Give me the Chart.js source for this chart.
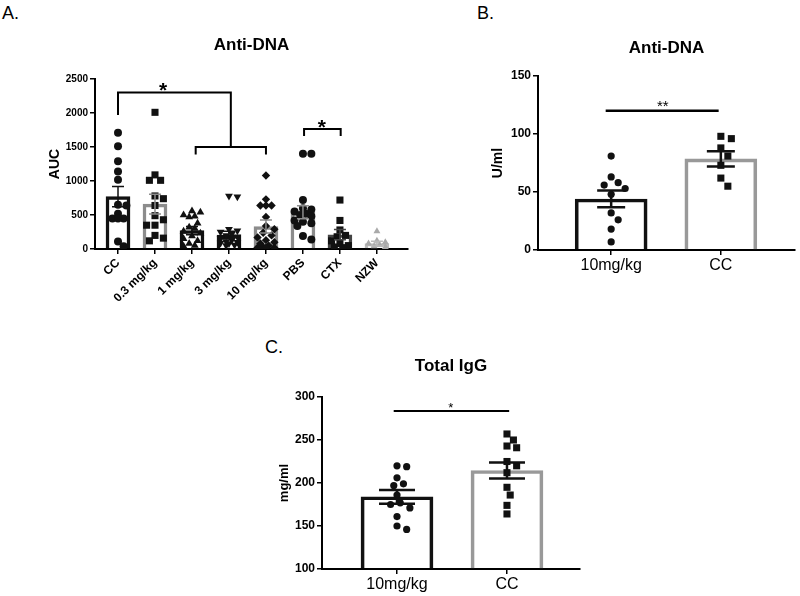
<!DOCTYPE html>
<html>
<head>
  <title>Anti-DNA / Total IgG</title>
  <script src="https://cdn.jsdelivr.net/npm/chart.js"></script>
  <style>
    body { margin:0; background:#fff; width:800px; height:596px; position:relative; overflow:hidden;
           font-family: Helvetica, Arial, "Liberation Sans", sans-serif; }
    canvas { position:absolute; }
    .lbl { position:absolute; font-size:18px; color:#000; line-height:1; }
  </style>
</head>
<body>
  <div class="lbl" style="left:2px;top:4px">A.</div>
  <div class="lbl" style="left:477px;top:4px">B.</div>
  <div class="lbl" style="left:265px;top:338px">C.</div>
  <canvas id="chartA" width="420" height="330" style="left:0;top:0"></canvas>
  <canvas id="chartB" width="360" height="300" style="left:440px;top:0"></canvas>
  <canvas id="chartC" width="350" height="266" style="left:240px;top:330px"></canvas>
  <script>
    const FONT = 'Helvetica, Arial, "Liberation Sans", sans-serif';
    Chart.defaults.font.family = FONT;
    Chart.defaults.color = '#000';

    // panel A: anti-DNA AUC
    const catsA = ['CC', '0.3 mg/kg', '1 mg/kg', '3 mg/kg', '10 mg/kg', 'PBS', 'CTX', 'NZW'];
    const meanA = [770, 660, 270, 205, 330, 540, 210, 80];
    const semA  = [150, 145, 60, 55, 95, 95, 75, 35];
    const ptsCC  = [1710, 1510, 1290, 1140, 1020, 650, 640, 520, 450, 450, 450, 110, 40];
    const pts03  = [2010, 1090, 1010, 1010, 780, 740, 640, 490, 430, 350, 350, 200, 160, 120];
    const pts1   = [560, 540, 500, 480, 470, 380, 320, 300, 260, 230, 190, 150, 120, 80, 50, 40];
    const pts3   = [780, 770, 290, 270, 250, 220, 200, 180, 150, 130, 110, 100, 90, 80, 60, 50];
    const pts10  = [1080, 730, 640, 640, 640, 470, 340, 290, 240, 200, 170, 130, 100, 80, 50, 30, 20, 20, 20];
    const ptsPBS = [1400, 1400, 720, 600, 580, 550, 520, 500, 480, 420, 400, 380, 340, 190, 140];
    const ptsCTX = [720, 420, 280, 200, 180, 120, 80, 50, 30, 20];
    const ptsNZW = [260, 120, 100, 80, 60, 40, 30];

    // panel B: anti-DNA U/ml
    const catsB = ['10mg/kg', 'CC'];
    const meanB = [44, 78.5];
    const semB  = [7.2, 6.6];
    const ptsB10 = [81, 63, 58, 56, 53, 48, 32, 26, 18, 7];
    const ptsBCC = [98, 96, 88, 81, 73, 62, 55];

    // panel C: total IgG mg/ml
    const catsC = ['10mg/kg', 'CC'];
    const meanC = [184, 214.5];
    const semC  = [8, 9.3];
    const ptsC10 = [220, 219, 206, 199, 197, 186, 177, 175, 171, 161, 150, 146];
    const ptsCCC = [257, 250, 243, 241, 225, 220, 212, 195, 186, 174, 164];

    // error bars + asterisks, drawn with the chart's own scales
    function overlay(means, sems, errColors, errWidth, cap, stars) {
      return {
        id: 'overlay',
        afterDatasetsDraw(chart) {
          const ctx = chart.ctx, x = chart.scales.x, y = chart.scales.y;
          ctx.save();
          ctx.lineWidth = errWidth;
          means.forEach((m, i) => {
            const px = x.getPixelForValue(i);
            const top = y.getPixelForValue(m + sems[i]), bot = y.getPixelForValue(m - sems[i]);
            ctx.strokeStyle = errColors[i];
            ctx.beginPath();
            ctx.moveTo(px, top); ctx.lineTo(px, bot);
            ctx.moveTo(px - cap / 2, top); ctx.lineTo(px + cap / 2, top);
            ctx.moveTo(px - cap / 2, bot); ctx.lineTo(px + cap / 2, bot);
            ctx.stroke();
          });
          ctx.fillStyle = '#000';
          ctx.textAlign = 'center';
          ctx.textBaseline = 'alphabetic';
          stars.forEach(s => {
            ctx.font = s.weight + ' ' + s.size + 'px ' + FONT;
            ctx.fillText(s.text, x.getPixelForValue(s.x), y.getPixelForValue(s.y) + s.size * 0.57);
          });
          ctx.restore();
        }
      };
    }

    // spread the dots sideways (within maxOff px) so they overlap as little as possible
    function swarm(vals, idx, xs, ys, r, maxOff) {
      const cx = xs.getPixelForValue(idx), placed = [];
      return vals.map(v => {
        const py = ys.getPixelForValue(v);
        let best = cx, bestD = -1;
        for (let k = 0; ; k++) {
          const off = k === 0 ? 0 : (k % 2 ? 1 : -1) * Math.ceil(k / 2) * r * 0.7;
          if (Math.abs(off) > maxOff) break;
          const tx = cx + off;
          let d = Infinity;
          placed.forEach(p => { d = Math.min(d, Math.hypot(p[0] - tx, p[1] - py)); });
          if (d >= 1.8 * r) { best = tx; bestD = d; break; }
          if (d > bestD + 0.5) { best = tx; bestD = d; }
        }
        placed.push([best, py]);
        return {x: xs.getValueForPixel(best), y: v};
      });
    }

    function axisY(min, max, step, title, tsize, fsize, width) {
      return {
        min: min, max: max,
        ticks: {stepSize: step, font: {size: tsize, weight: 'bold'}, color: '#000', padding: 2,
                callback: v => String(v)},
        grid: {drawOnChartArea: false, color: '#000', lineWidth: 1.5, tickLength: 5},
        border: {color: '#000', width: 2},
        title: {display: true, text: title, font: {size: fsize, weight: 'bold'}, color: '#000', padding: 0},
        afterFit(s) { s.width = width; }
      };
    }

    function axisX(cats, min, max, font, rot, height) {
      return {
        type: 'linear', min: min, max: max, offset: false,
        afterBuildTicks(s) { s.ticks = cats.map((c, i) => ({value: i})); },
        ticks: {callback: v => cats[v], font: font, color: '#000', autoSkip: false,
                maxRotation: rot, minRotation: rot, padding: rot ? 2 : 1},
        grid: {offset: false, drawOnChartArea: false, color: '#000', lineWidth: 1.5, tickLength: 5},
        border: {color: '#000', width: 2},
        afterFit(s) { s.height = height; }
      };
    }

    function titleOpt(text, top, bottom) {
      return {display: true, text: text, fullSize: false, color: '#000',
              font: {size: 17, weight: 'bold'}, padding: {top: top, bottom: bottom}};
    }

    function dots(vals, i, style, radius, color, rotation) {
      return {type: 'scatter', data: vals.map(v => ({x: i, y: v})), pointStyle: style,
              pointRadius: radius, pointHoverRadius: radius, pointRotation: rotation || 0,
              backgroundColor: color, borderColor: color, borderWidth: 0, order: 1};
    }

    function bracket(pts, width) {
      return {type: 'line', data: pts, borderColor: '#000', borderWidth: width,
              pointRadius: 0, fill: false, tension: 0, order: 0};
    }

    const common = {
      responsive: false, animation: false,
      plugins: {legend: {display: false}, tooltip: {enabled: false}}
    };

    // ---------- A ----------
    const borderA = ['#111', '#8c8c8c', '#111', '#111', '#8c8c8c', '#8c8c8c', '#444', '#bbb'];
    const groupsA = [ptsCC, pts03, pts1, pts3, pts10, ptsPBS, ptsCTX, ptsNZW];
    const stylesA = [['circle', 4], ['rect', 5], ['triangle', 4.5], ['triangle', 4.5, 180],
                     ['rectRot', 4.2], ['circle', 4], ['rect', 5], ['triangle', 4]];
    const chartA = new Chart(document.getElementById('chartA'), {
      type: 'bar',
      data: {
        datasets: [
          ...groupsA.map((g, i) => dots(g, i, stylesA[i][0], stylesA[i][1], i === 7 ? '#aaa' : '#111', stylesA[i][2])),
          bracket([{x: 0, y: 1970}, {x: 0, y: 2300}, {x: 3.05, y: 2300}, {x: 3.05, y: 1500}], 2),
          bracket([{x: 2.1, y: 1390}, {x: 2.1, y: 1500}, {x: 4.0, y: 1500}, {x: 4.0, y: 1390}], 2),
          bracket([{x: 5.03, y: 1660}, {x: 5.03, y: 1765}, {x: 6.02, y: 1765}, {x: 6.02, y: 1660}], 2),
          {type: 'bar', data: meanA.map((m, i) => ({x: i, y: m})), barThickness: 24,
           backgroundColor: 'rgba(255,255,255,0)', borderColor: borderA, borderWidth: 2.8, order: 3}
        ]
      },
      options: {
        ...common,
        layout: {padding: {left: 46.6, right: 12, top: 0, bottom: 0}},
        plugins: {...common.plugins, title: titleOpt('Anti-DNA', 34.8, 23.8)},
        scales: {
          x: axisX(catsA, -0.622, 7.84, {size: 12, weight: 'bold'}, 45, 81),
          y: axisY(0, 2500, 500, 'AUC', 10, 14, 48.4)
        }
      },
      plugins: [overlay(meanA, semA, borderA, 1.5, 12,
        [{x: 1.22, y: 2410, text: '*', size: 21, weight: 'bold'},
         {x: 5.51, y: 1870, text: '*', size: 21, weight: 'bold'}])]
    });

    // ---------- B ----------
    const chartB = new Chart(document.getElementById('chartB'), {
      type: 'bar',
      data: {
        datasets: [
          dots(ptsB10, 0, 'circle', 3.6, '#111'),
          dots(ptsBCC, 1, 'rect', 5, '#111'),
          bracket([{x: -0.05, y: 120}, {x: 0.98, y: 120}], 2.5),
          {type: 'bar', data: meanB.map((m, i) => ({x: i, y: m})), barThickness: 72,
           backgroundColor: 'rgba(255,255,255,0)', borderColor: ['#111', '#999'], borderWidth: 3, order: 3}
        ]
      },
      options: {
        ...common,
        layout: {padding: {left: 49.6, right: 2, top: 0, bottom: 0}},
        plugins: {...common.plugins, title: titleOpt('Anti-DNA', 37.8, 17.8)},
        scales: {
          x: axisX(catsB, -0.667, 1.676, {size: 16}, 0, 50),
          y: axisY(0, 150, 50, 'U/ml', 12, 14, 48.4)
        }
      },
      plugins: [overlay(meanB, semB, ['#111', '#111'], 2.5, 28,
        [{x: 0.47, y: 127, text: '**', size: 15, weight: 'normal'}])]
    });

    // ---------- C ----------
    const chartC = new Chart(document.getElementById('chartC'), {
      type: 'bar',
      data: {
        datasets: [
          dots(ptsC10, 0, 'circle', 3.6, '#111'),
          dots(ptsCCC, 1, 'rect', 5, '#111'),
          bracket([{x: -0.03, y: 283.7}, {x: 1.02, y: 283.7}], 2),
          {type: 'bar', data: meanC.map((m, i) => ({x: i, y: m})), base: 100, barThickness: 72,
           backgroundColor: 'rgba(255,255,255,0)', borderColor: ['#111', '#999'], borderWidth: 3, order: 3}
        ]
      },
      options: {
        ...common,
        layout: {padding: {left: 36.2, right: 10, top: 0, bottom: 0}},
        plugins: {...common.plugins, title: titleOpt('Total IgG', 25.8, 20.8)},
        scales: {
          x: axisX(catsC, -0.682, 1.664, {size: 16}, 0, 27),
          y: axisY(100, 300, 50, 'mg/ml', 12, 13, 45.8)
        }
      },
      plugins: [overlay(meanC, semC, ['#111', '#111'], 2.5, 36,
        [{x: 0.49, y: 291, text: '*', size: 13, weight: 'normal'}])]
    });

    // place dots once the scales exist
    function spread(chart, groups, r, maxOff) {
      const xs = chart.scales.x, ys = chart.scales.y;
      groups.forEach((g, i) => { chart.data.datasets[i].data = swarm(g, i, xs, ys, r, maxOff); });
      chart.update('none');
    }
    spread(chartA, groupsA, 4, 9);
    spread(chartB, [ptsB10, ptsBCC], 5, 18);
    spread(chartC, [ptsC10, ptsCCC], 4.6, 22);
  </script>
</body>
</html>
